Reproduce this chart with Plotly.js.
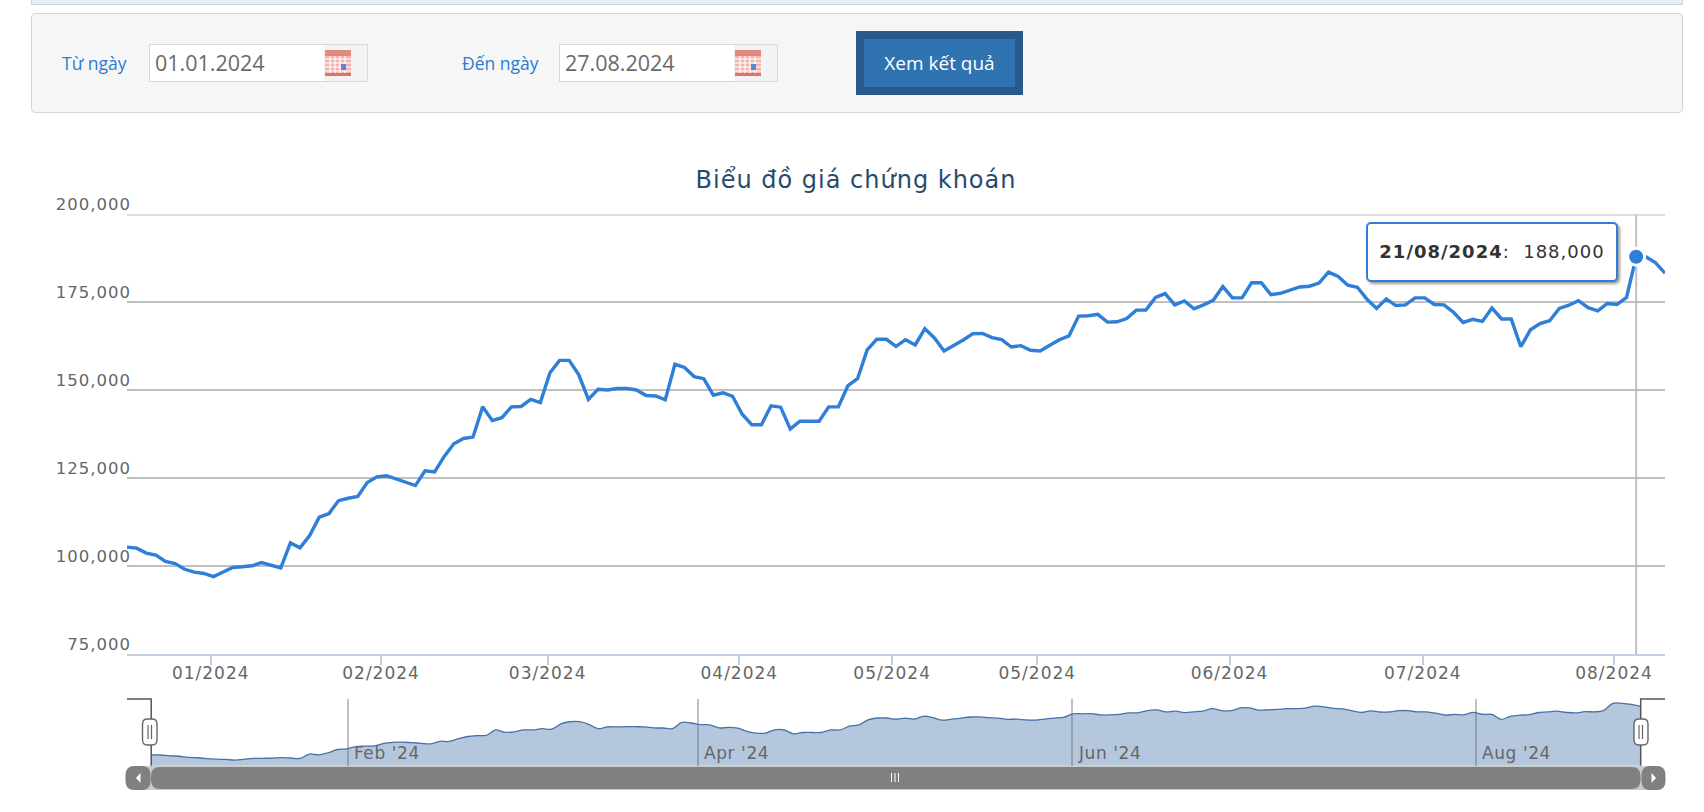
<!DOCTYPE html>
<html lang="vi">
<head>
<meta charset="utf-8">
<title>Biểu đồ giá chứng khoán</title>
<script src="https://cdn.plot.ly/plotly-3.0.1.min.js"></script>
<style>
html,body{margin:0;padding:0;width:1704px;height:812px;overflow:hidden;background:#fff;font-family:"Open Sans",sans-serif}
#chart{position:absolute;left:0;top:0;width:1704px;height:812px}
.strip{position:absolute;left:31px;top:-2px;width:1650px;height:5px;background:#e3eef5;border:1px solid #c9d6de;box-sizing:content-box}
.panel{position:absolute;left:31px;top:13px;width:1650px;height:98px;background:#f6f6f6;border:1px solid #d6d6d6;border-radius:4px}
.lbl{position:absolute;top:51px;font-size:17.5px;line-height:24px;color:#2a7ad6}
.inp{position:absolute;top:44px;width:217px;height:36px;background:#fff;border:1px solid #d8d8d8;box-sizing:content-box;font-size:21.5px;line-height:36px;color:#6a6a6a;text-indent:5px}
.inp i{position:absolute;right:0;top:0;width:43px;height:36px;background:#f3f3f3}
.inp svg{position:absolute;right:15px;top:4px}
.btn{position:absolute;left:856px;top:31px;width:151px;height:48px;background:#2f73b0;border:8px solid #285b8c;color:#fff;font-size:19px;line-height:48px;text-align:center}
.tip{position:absolute;left:1366px;top:222px;width:248px;height:56px;background:#fff;border:2px solid #2f7ed8;border-radius:5px;box-shadow:2px 2px 3px rgba(0,0,0,.4);font-family:"DejaVu Sans",sans-serif;font-size:18px;line-height:56px;color:#333;letter-spacing:1px;text-align:center;white-space:pre}
.xtick text,.ytick text{letter-spacing:1px}
.gtitle{letter-spacing:1px}
.annotation text{letter-spacing:.6px}
</style>
</head>
<body>
<div id="chart"></div>
<div class="strip"></div>
<div class="panel"></div>
<div class="lbl" style="left:62px">Từ ngày</div>
<div class="inp" style="left:149px">01.01.2024<i></i><svg width="28" height="28" viewBox="0 0 28 28"><rect x="1" y="1" width="26" height="26" fill="#f5b5ad"/><rect x="1" y="1" width="26" height="6" fill="#e08a80"/><path d="M1 10H27M1 14H27M1 18H27M1 22H27M6 7V27M11 7V27M16 7V27M21 7V27" stroke="#fff" stroke-width="1.2"/><rect x="17" y="15" width="5" height="6" fill="#5a86d8"/><rect x="1" y="24" width="26" height="3" fill="#d5776e"/></svg></div>
<div class="lbl" style="left:462px">Đến ngày</div>
<div class="inp" style="left:559px">27.08.2024<i></i><svg width="28" height="28" viewBox="0 0 28 28"><rect x="1" y="1" width="26" height="26" fill="#f5b5ad"/><rect x="1" y="1" width="26" height="6" fill="#e08a80"/><path d="M1 10H27M1 14H27M1 18H27M1 22H27M6 7V27M11 7V27M16 7V27M21 7V27" stroke="#fff" stroke-width="1.2"/><rect x="17" y="15" width="5" height="6" fill="#5a86d8"/><rect x="1" y="24" width="26" height="3" fill="#d5776e"/></svg></div>
<div class="btn">Xem kết quả</div>
<div class="tip" id="tip"></div>
<script>
// ---------- data ----------
const janDays = ["02","03","04","05","08","09","10","11","12","15","16","17","18","19","22","23","24","25","26","29","30","31"];
const febDays = ["01","02","05","06","07","15","16","19","20","21","22","23","26","27","28","29"];
const marDays = ["01","04","05","06","07","08","11","12","13","14","15","18","19","20","21","22","25","26","27","28","29"];
const aprDays = ["01","02","03","04","05","08","09","10","11","12","15","16","17","19","22","23","24","25","26"];
const mayDays = ["02","03","06","07","08","09","10","13","14","15","16","17","20","21","22","23","24","27","28","29","30","31"];
const junDays = ["03","04","05","06","07","10","11","12","13","14","17","18","19","20","21","24","25","26","27","28"];
const julDays = ["01","02","03","04","05","08","09","10","11","12","15","16","17","18","19","22","23","24","25","26","29","30","31"];
const augDays = ["01","02","05","06","07","08","09","12","13","14","15","16","19","20","21","22","23","26"];

const prices = [
105400,105100,103700,103100,101300,100700,99100,98300,97900,97000,98300,99600,99800,100100,101000,100300,99500,
106600,105200,108700,113900,114900,118600,119300,119800,123800,125400,125700,124800,123900,122900,127100,126800,
131200,134800,136300,136700,145300,141400,142200,145300,145400,147400,146500,155000,158500,158500,154400,147400,
150300,150100,150500,150500,150100,148500,148400,147300,157400,156500,153900,153300,148600,149300,148300,143200,
140200,140200,145600,145200,139000,141200,141200,141200,145300,145300,151300,153300,161500,164500,164500,162500,
164400,162900,167500,164900,161200,162700,164300,166100,166200,165000,164400,162300,162700,161400,161200,162800,
164400,165500,171100,171200,171600,169400,169500,170400,172800,172800,176400,177500,174300,175400,173200,174300,
175600,179500,176300,176300,180600,180600,177200,177600,178400,179400,179600,180500,183600,182400,179900,179300,
175900,173300,176000,174100,174300,176300,176300,174400,174300,172200,169300,170200,169600,173400,170300,170300,
162400,167200,169000,169800,173300,174200,175500,173500,172600,174700,174400,176400,188000,188000,186300,183300
];

const priceTickVals = [75000,100000,125000,150000,175000,200000];
const monthTickLabels = ["01/2024","02/2024","03/2024","04/2024","05/2024","05/2024","06/2024","07/2024","08/2024"];
const monthTickPlaces = [8.71,26.43,43.76,63.7,79.6,94.7,114.7,134.8,154.7];
const navLabels = ["Feb '24","Apr '24","Jun '24","Aug '24"];
const navPlaces = [21.1,58.7,98.9,142.3];
const highlightIndex = 157;

// ---------- derived ----------
const tradingDates = [].concat(
  janDays.map(d=>d+"/01/2024"),febDays.map(d=>d+"/02/2024"),marDays.map(d=>d+"/03/2024"),aprDays.map(d=>d+"/04/2024"),
  mayDays.map(d=>d+"/05/2024"),junDays.map(d=>d+"/06/2024"),julDays.map(d=>d+"/07/2024"),augDays.map(d=>d+"/08/2024"));
const ordinal = tradingDates.map((d,i)=>i);

// ---------- page geometry (pixels) ----------
const W=1704,H=812;
const px=x=>x/W, py=y=>1-y/H;
const P={l:127,r:1665,t:214.5,b:654};
const N={l:151.2,r:1640.7,t:699,b:765.7};
const S={t:766,b:790};
function rr(x0,y0,x1,y1,r){
  const X=v=>px(v).toFixed(6),Y=v=>py(v).toFixed(6);
  return `M${X(x0+r)},${Y(y0)}L${X(x1-r)},${Y(y0)}Q${X(x1)},${Y(y0)} ${X(x1)},${Y(y0+r)}L${X(x1)},${Y(y1-r)}Q${X(x1)},${Y(y1)} ${X(x1-r)},${Y(y1)}L${X(x0+r)},${Y(y1)}Q${X(x0)},${Y(y1)} ${X(x0)},${Y(y1-r)}L${X(x0)},${Y(y0+r)}Q${X(x0)},${Y(y0)} ${X(x0+r)},${Y(y0)}Z`;
}
function poly(pts,close){
  return 'M'+pts.map(p=>px(p[0]).toFixed(6)+','+py(p[1]).toFixed(6)).join('L')+(close?'Z':'');
}
const sh=(path,fill,color,width)=>({type:'path',xref:'paper',yref:'paper',path,fillcolor:fill||'rgba(0,0,0,0)',line:{color:color||'rgba(0,0,0,0)',width:width||0},layer:'above'});
const ln=(x0,y0,x1,y1,color,width)=>({type:'line',xref:'paper',yref:'paper',x0:px(x0),x1:px(x1),y0:py(y0),y1:py(y1),line:{color,width},layer:'above'});

const shapes=[
  // top gridline (plotly leaves out the gridline on the range edge)
  {type:'line',xref:'paper',yref:'y',x0:px(P.l),x1:px(P.r),y0:200000,y1:200000,line:{color:'#c0c0c0',width:2},layer:'below'},
  // crosshair
  {type:'line',xref:'x',yref:'y',x0:highlightIndex,x1:highlightIndex,y0:75000,y1:200000,line:{color:'#c0c0c0',width:2},layer:'below'},
  // scrollbar
  {type:'rect',xref:'paper',yref:'paper',x0:px(132),x1:px(1660),y0:py(S.t),y1:py(S.b),fillcolor:'#c9c9c9',line:{width:0},layer:'above'},
  sh(rr(125.5,S.t,150.5,S.b,9),'#808080'),
  sh(rr(151,S.t+1,1640.5,S.b-1,9),'#808080'),
  sh(rr(1641.5,S.t,1665.5,S.b,9),'#808080'),
  sh(poly([[140.5,773],[140.5,783],[136,778]],true),'#fff'),
  sh(poly([[1651.5,773],[1651.5,783],[1656,778]],true),'#fff'),
  ln(891.5,773,891.5,782,'#fff',1),ln(895,773,895,782,'#fff',1),ln(898.5,773,898.5,782,'#fff',1),
  // navigator outline
  sh(poly([[P.l,N.t],[N.l,N.t],[N.l,N.b]],false),null,'#555',1.5),
  sh(poly([[N.r,N.b],[N.r,N.t],[P.r,N.t]],false),null,'#555',1.5),
  // handles
  sh(rr(142.5,719,157,745,5),'#fff','#666',1.4),
  ln(148,725,148,739,'#666',1.2),ln(151.5,725,151.5,739,'#666',1.2),
  sh(rr(1634,719,1648,745,5),'#fff','#666',1.4),
  ln(1639,725,1639,739,'#666',1.2),ln(1642.5,725,1642.5,739,'#666',1.2)
];

const navAnn=navLabels.map((t,i)=>({text:t,xref:'x2',yref:'paper',x:navPlaces[i],y:py(752.5),xanchor:'left',yanchor:'middle',xshift:6,showarrow:false,font:{family:'DejaVu Sans',size:17,color:'#666'}}));

const traces=[
  {x:ordinal,y:prices,customdata:tradingDates,type:'scatter',mode:'lines',line:{color:'#2f7ed8',width:3.4,shape:'linear'},xaxis:'x',yaxis:'y',hoverinfo:'skip'},
  {x:[ordinal[highlightIndex]],y:[prices[highlightIndex]],type:'scatter',mode:'markers',marker:{color:'#2f7ed8',size:17,line:{color:'#fff',width:3}},xaxis:'x',yaxis:'y',hoverinfo:'skip',cliponaxis:false},
  {x:ordinal,y:prices,type:'scatter',mode:'lines',fill:'tozeroy',fillcolor:'rgba(69,114,167,0.4)',line:{color:'#4572A7',width:1.3,shape:'spline',smoothing:1},xaxis:'x2',yaxis:'y2',hoverinfo:'skip'}
];

const pxPerPt=(N.r-N.l)/(ordinal.length-1);
const layout={
  width:W,height:H,margin:{l:0,r:0,t:0,b:0},paper_bgcolor:'rgba(0,0,0,0)',plot_bgcolor:'rgba(0,0,0,0)',showlegend:false,hovermode:false,
  title:{text:'Biểu đồ giá chứng khoán',x:px(856),xanchor:'center',xref:'paper',y:py(180),yanchor:'middle',yref:'paper',font:{family:'DejaVu Sans',size:24,color:'#274b6d'}},
  xaxis:{domain:[px(P.l),px(P.r)],range:[0,ordinal.length-1],anchor:'y',tickmode:'array',tickvals:monthTickPlaces,ticktext:monthTickLabels,ticks:'outside',ticklen:9,tickwidth:1.5,tickcolor:'#c0d0e0',showgrid:false,zeroline:false,showline:true,linecolor:'#c0d0e0',linewidth:2,tickangle:0,automargin:false,ticklabelstandoff:-6,tickfont:{family:'DejaVu Sans',size:17,color:'#666'}},
  yaxis:{domain:[py(P.b),py(P.t)],range:[75000,200000],anchor:'x',tickmode:'array',tickvals:priceTickVals,tickformat:',d',ticks:'',showgrid:true,gridcolor:'#c0c0c0',gridwidth:2,zeroline:false,showline:false,automargin:false,ticklabelshift:-10,ticklabelstandoff:-5,tickfont:{family:'DejaVu Sans',size:16.5,color:'#666'}},
  xaxis2:{domain:[px(P.l),px(P.r)],range:[(P.l-N.l)/pxPerPt,ordinal.length-1+(P.r-N.r)/pxPerPt],anchor:'y2',tickmode:'array',tickvals:navPlaces,ticks:'',showticklabels:false,showgrid:true,gridcolor:'#c0c0c0',gridwidth:1.5,zeroline:false,showline:false,automargin:false},
  yaxis2:{domain:[py(N.b),py(N.t)],range:[87900,195000],anchor:'x2',showgrid:false,showticklabels:false,zeroline:false,showline:false,ticks:'',automargin:false},
  shapes,annotations:navAnn
};
Plotly.newPlot('chart',traces,layout,{displayModeBar:false,responsive:false}).then(()=>{
  const v=prices[highlightIndex].toLocaleString('en-US');
  const tip=document.getElementById('tip');
  const b=document.createElement('b');b.textContent=tradingDates[highlightIndex];
  tip.appendChild(b);tip.appendChild(document.createTextNode(':  '+v));
});
</script>
</body>
</html>
